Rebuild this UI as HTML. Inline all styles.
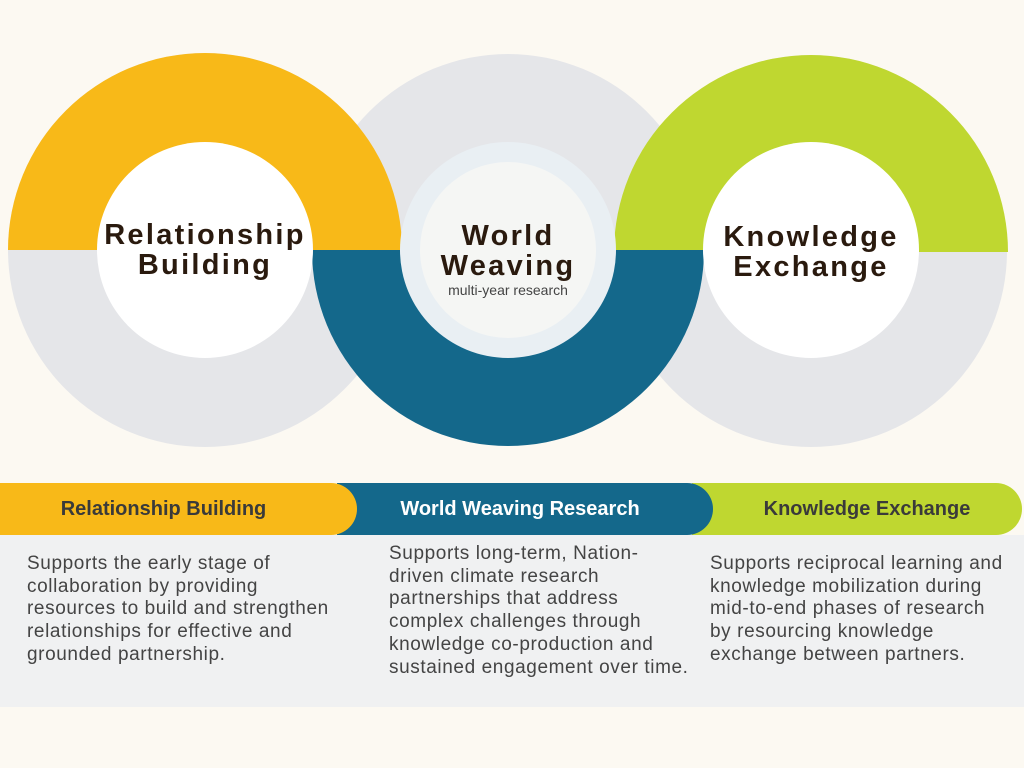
<!DOCTYPE html>
<html><head><meta charset="utf-8"><style>
body{margin:0;width:1024px;height:768px;overflow:hidden;background:#fcf9f2;font-family:"Liberation Sans",sans-serif;position:relative}
.t{position:absolute;font-weight:bold;color:#2a1a0e;text-align:center;font-size:29px;line-height:30px;letter-spacing:2.3px}
.bar{position:absolute;top:483px;height:52px;line-height:52px;font-weight:bold;font-size:20px;text-align:center}
.p{position:absolute;font-size:19px;line-height:22.7px;color:#444;white-space:nowrap;letter-spacing:0.6px}
</style></head><body>
<svg width="1024" height="768" style="position:absolute;left:0;top:0">
<rect x="0" y="535" width="1024" height="172" fill="#f0f1f2"/>
<g fill="#e5e6e9">
<circle cx="205" cy="250" r="197"/><circle cx="508" cy="250" r="196"/><circle cx="811" cy="251" r="196"/>
</g>
<path d="M8,250 A197,197 0 0 1 402,250 Z" fill="#f8b918"/>
<path d="M614,252 A197,197 0 0 1 1008,252 Z" fill="#bfd730"/>
<path d="M312,250 A196,196 0 0 0 704,250 Z" fill="#14688b"/>
<circle cx="205" cy="250" r="108" fill="#fff"/>
<circle cx="811" cy="250" r="108" fill="#fff"/>
<circle cx="508" cy="250" r="108" fill="#e9eff3"/>
<circle cx="508" cy="250" r="88" fill="#f5f6f4"/>
</svg>
<div class="t" style="left:85px;top:220px;width:240px">Relationship<br>Building</div>
<div class="t" style="left:408px;top:221px;width:200px">World<br>Weaving</div>
<div style="position:absolute;left:408px;top:282px;width:200px;text-align:center;font-size:14px;color:#444">multi-year research</div>
<div class="t" style="left:691px;top:222px;width:240px">Knowledge<br>Exchange</div>
<div class="bar" style="left:692px;width:330px;background:#bfd730;border-radius:0 26px 26px 0;color:#3a3a3a"><span style="margin-left:20px">Knowledge Exchange</span></div>
<div class="bar" style="left:337px;width:376px;background:#14688b;border-radius:0 26px 26px 0;color:#fff"><span style="margin-left:-10px">World Weaving Research</span></div>
<div class="bar" style="left:0;width:357px;background:#f8b918;border-radius:0 26px 26px 0;color:#3a3a3a"><span style="margin-left:-30px">Relationship Building</span></div>
<div class="p" style="left:27px;top:553px">Supports the early stage of<br>collaboration by providing<br>resources to build and strengthen<br>relationships for effective and<br>grounded partnership.</div>
<div class="p" style="left:389px;top:543px">Supports long-term, Nation-<br>driven climate research<br>partnerships that address<br>complex challenges through<br>knowledge co-production and<br>sustained engagement over time.</div>
<div class="p" style="left:710px;top:553px">Supports reciprocal learning and<br>knowledge mobilization during<br>mid-to-end phases of research<br>by resourcing knowledge<br>exchange between partners.</div>
</body></html>
